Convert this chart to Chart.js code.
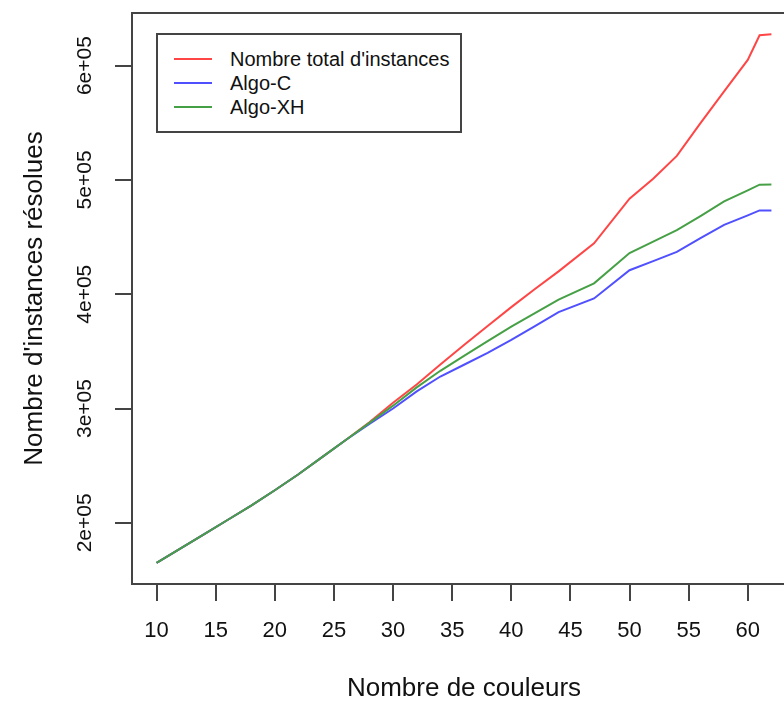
<!DOCTYPE html>
<html>
<head>
<meta charset="utf-8">
<script src="https://cdn.jsdelivr.net/npm/chart.js@4.4.1/dist/chart.umd.min.js"></script>
<style>
  html, body { margin: 0; padding: 0; background: #fff; overflow: hidden; }
  #wrap { position: relative; width: 784px; height: 702px; overflow: hidden; }
  #chart { position: absolute; left: 0; top: 0; }
  #legend { position: absolute; left: 156px; top: 33px; width: 302px; height: 96px;
    border: 2px solid #444; background: #fff; font: 20px "Liberation Sans", Arial, sans-serif; color: #111; }
  .row { position: absolute; left: 0; height: 24px; line-height: 24px; width: 100%; }
  .swatch { position: absolute; left: 16px; top: 11px; width: 38px; height: 2px; }
  .label { position: absolute; left: 72px; top: 0; white-space: nowrap; }
</style>
</head>
<body>
<div id="wrap">
  <canvas id="chart" width="820" height="702"></canvas>
  <div id="legend"></div>
</div>
<script>
// values
const couleurs = [10, 12, 14, 16, 18, 20, 22, 24, 26, 28, 30, 32, 34, 36, 38, 40, 42, 44, 47, 50, 52, 54, 56, 58, 60, 61, 62];
const totalInstances = [165000, 177500, 190000, 202500, 215000, 228500, 242500, 257500, 272500, 288000, 305000, 321000, 338500, 355600, 372200, 388700, 404600, 420000, 444500, 483600, 501000, 521000, 549600, 577400, 605000, 626500, 627500];
const algoC = [165000, 177500, 190000, 202500, 215000, 228500, 242500, 257500, 272500, 286500, 300000, 315000, 328000, 338300, 348700, 360000, 372100, 384300, 396300, 421000, 429000, 437000, 449000, 460700, 469000, 473300, 473300];
const algoXH = [165000, 177500, 190000, 202500, 215000, 228500, 242500, 257500, 272500, 287500, 302500, 318500, 333000, 346000, 359000, 371600, 383500, 395300, 409500, 436000, 446000, 456000, 468400, 481200, 490900, 495800, 496000];

const seriesNames = ['Nombre total d\'instances', 'Algo-C', 'Algo-XH'];
const seriesColors = ['rgb(255,70,70)', 'rgb(80,80,255)', 'rgb(70,160,70)'];

const xTicks = [10, 15, 20, 25, 30, 35, 40, 45, 50, 55, 60];
const yTicks = [200000, 300000, 400000, 500000, 600000];
const yTickLabels = ['2e+05', '3e+05', '4e+05', '5e+05', '6e+05'];

const FONT = '"Liberation Sans", Arial, sans-serif';

// R style axis range: data range plus 4% on each side
function padRange(vals) {
  const lo = Math.min(...vals), hi = Math.max(...vals);
  const d = (hi - lo) * 0.04;
  return [lo - d, hi + d];
}
const [xMin, xMax] = padRange(couleurs);
const [yMin, yMax] = padRange(totalInstances.concat(algoC, algoXH));

const toPoints = (ys) => couleurs.map((x, i) => ({ x, y: ys[i] }));

// box round the plot region
const frame = {
  id: 'frame',
  beforeDatasetsDraw(chart) {
    const { ctx, chartArea: a } = chart;
    ctx.save();
    ctx.strokeStyle = '#444';
    ctx.lineWidth = 2;
    ctx.strokeRect(a.left, a.top, a.right - a.left, a.bottom - a.top);
    ctx.restore();
  }
};

const allSeries = [totalInstances, algoC, algoXH];
const datasets = allSeries.map((ys, i) => ({
  label: seriesNames[i],
  data: toPoints(ys),
  borderColor: seriesColors[i],
  borderWidth: 2,
  pointRadius: 0,
  tension: 0,
  order: allSeries.length - i
}));

new Chart(document.getElementById('chart'), {
  type: 'line',
  data: { datasets },
  plugins: [frame],
  options: {
    responsive: false,
    animation: false,
    devicePixelRatio: 1,
    layout: { padding: { top: 13, right: 24, left: 0, bottom: 0 } },
    plugins: { legend: { display: false }, tooltip: { enabled: false } },
    scales: {
      x: {
        type: 'linear',
        min: xMin,
        max: xMax,
        afterBuildTicks: (s) => { s.ticks = xTicks.map(v => ({ value: v })); },
        afterFit: (s) => { s.height = 118; },
        border: { display: false },
        grid: { drawOnChartArea: false, drawTicks: true, tickLength: 17, color: '#444', lineWidth: 2 },
        ticks: {
          autoSkip: false, maxRotation: 0, padding: 17, color: '#111',
          font: { family: FONT, size: 22 },
          callback: (v) => String(v)
        },
        title: {
          display: true, text: 'Nombre de couleurs', color: '#111',
          font: { family: FONT, size: 26, lineHeight: 1 },
          padding: { top: 0, bottom: 0 }
        }
      },
      y: {
        type: 'linear',
        min: yMin,
        max: yMax,
        afterBuildTicks: (s) => { s.ticks = yTicks.map(v => ({ value: v })); },
        afterFit: (s) => { s.width = 132; },
        border: { display: false },
        grid: { drawOnChartArea: false, drawTicks: true, tickLength: 17, color: '#444', lineWidth: 2 },
        ticks: {
          autoSkip: false, minRotation: 90, maxRotation: 90, crossAlign: 'center', padding: 0,
          color: '#111', font: { family: FONT, size: 21 },
          callback: (v, i) => yTickLabels[i]
        },
        title: {
          display: true, text: 'Nombre d\'instances résolues', color: '#111',
          font: { family: FONT, size: 26, lineHeight: 1 },
          padding: { top: 22, bottom: 0 }
        }
      }
    }
  }
});

// legend box drawn as html, from the same series arrays
const legend = document.getElementById('legend');
seriesNames.forEach((name, i) => {
  const row = document.createElement('div');
  row.className = 'row';
  row.style.top = (12 + i * 24) + 'px';
  row.innerHTML = '<span class="swatch" style="background:' + seriesColors[i] + '"></span><span class="label"></span>';
  row.querySelector('.label').textContent = name;
  legend.appendChild(row);
});
</script>
</body>
</html>
